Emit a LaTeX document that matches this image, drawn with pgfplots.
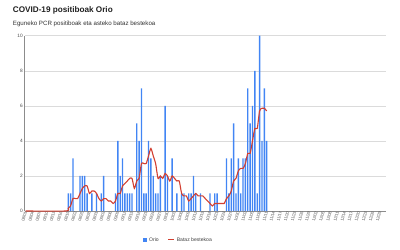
\documentclass[border=0pt]{standalone}
\usepackage{fontspec}
\setmainfont{Liberation Sans}
\usepackage{pgfplots}
\pgfplotsset{compat=1.18}
\definecolor{barblue}{HTML}{4285F4}
\definecolor{linered}{HTML}{D23F31}
\begin{document}
\begin{tikzpicture}
\path[use as bounding box] (0bp,0bp) rectangle (400bp,250bp);
\node[anchor=west, font=\fontsize{8.2}{9}\selectfont\bfseries, text=black!88, inner sep=0] at (12.7bp,240bp) {COVID-19 positiboak Orio};
\node[anchor=west, font=\fontsize{6.2}{7}\selectfont, text=black!80, inner sep=0] at (12.7bp,226.5bp) {Eguneko PCR positiboak eta asteko bataz bestekoa};
\begin{axis}[
  at={(24.5bp,39bp)}, anchor=south west,
  width=361.5bp, height=175.3bp, scale only axis,
  xmin=-0.5, xmax=152.5, ymin=0, ymax=10,
  ytick={0,2,4,6,8,10},
  xtick={0,3,...,150},
  xticklabels={08/01,08/04,08/07,08/10,08/13,08/16,08/19,08/22,08/25,08/28,08/31,09/03,09/06,09/09,09/12,09/15,09/18,09/21,09/24,09/27,09/30,10/03,10/06,10/09,10/12,10/15,10/18,10/21,10/24,10/27,10/30,11/02,11/05,11/08,11/11,11/14,11/17,11/20,11/23,11/26,11/29,12/02,12/05,12/08,12/11,12/14,12/17,12/20,12/23,12/26,12/29},
  x tick label style={rotate=75, anchor=east, font=\fontsize{4.2}{5}\selectfont, text=black!65, inner sep=0.3bp},
  y tick label style={font=\fontsize{4.8}{5}\selectfont, text=black!70, inner sep=1.5bp},
  /pgf/number format/assume math mode=true,
  ymajorgrids, grid style={black!14, line width=0.5bp},
  axis lines*=left, axis line style={black!45, line width=0.6bp},
  major tick length=0pt,
  clip=false,
  legend columns=2,
  legend style={draw=none, fill=none, at={(0.426,-0.165)}, anchor=center, font=\fontsize{5.1}{6}\selectfont, text=black!75, /tikz/every even column/.append style={column sep=7bp}, inner sep=0pt},
]
\addplot[ybar, bar width=0.58, fill=barblue, draw=none,
  legend image code/.code={\fill[barblue] (0bp,-2bp) rectangle (4bp,2bp);}]
coordinates {
(18,1)(19,1)(20,3)(23,2)(24,2)(25,2)(26,1)(28,1)(30,1)(32,1)(33,2)
(38,1)(39,4)(40,2)(41,3)(42,1)(43,1)(44,1)(45,1)(47,5)(48,4)(49,7)
(50,1)(51,1)(52,4)(53,3)(54,2)(55,1)(56,1)(57,2)(59,6)(60,2)(62,3)
(64,1)(66,1)(67,1)(69,1)(70,1)(71,2)(72,1)(74,1)(78,1)(80,1)(81,1)
(85,3)(86,1)(87,3)(88,5)(89,1)(90,3)(91,1)(92,3)(93,3)(94,7)(95,5)
(96,6)(97,8)(98,1)(99,10)(100,4)(101,7)(102,4)
};
\addlegendentry{Orio}
\addplot[linered, line width=1.1bp, smooth, tension=0.4,
  legend image code/.code={\draw[linered, line width=1.1bp] (0bp,0bp) -- (6bp,0bp);}]
coordinates {
(0,0)(17,0)(18,0.14)(19,0.29)(20,0.71)(21,0.71)(22,0.71)(23,1.00)(24,1.29)
(25,1.43)(26,1.43)(27,1.00)(28,1.14)(29,1.14)(30,1.00)(31,0.71)(32,0.57)
(33,0.71)(34,0.71)(35,0.57)(36,0.57)(37,0.43)(38,0.57)(39,1.00)(40,1.00)
(41,1.43)(42,1.57)(43,1.71)(44,1.86)(45,1.86)(46,1.29)(47,1.71)(48,1.86)
(49,2.71)(50,2.71)(51,2.71)(52,3.14)(53,3.57)(54,3.14)(55,2.71)(56,1.86)
(57,2.00)(58,1.86)(59,2.14)(60,2.00)(61,1.71)(62,2.00)(63,1.86)(64,1.71)
(65,1.71)(66,1.00)(67,0.86)(68,0.86)(69,0.57)(70,0.71)(71,0.86)(72,1.00)
(73,0.86)(74,0.86)(75,0.86)(76,0.71)(77,0.57)(78,0.43)(79,0.29)(80,0.43)
(81,0.43)(82,0.43)(83,0.43)(84,0.43)(85,0.71)(86,0.86)(87,1.14)(88,1.71)
(89,1.86)(90,2.29)(91,2.43)(92,2.43)(93,2.71)(94,3.29)(95,3.29)(96,4.00)
(97,4.71)(98,4.71)(99,5.71)(100,5.86)(101,5.86)(102,5.71)
};
\addlegendentry{Bataz bestekoa}
\end{axis}
\end{tikzpicture}
\end{document}
